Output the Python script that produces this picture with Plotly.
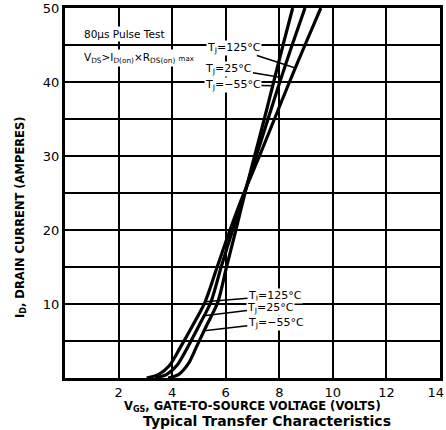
import numpy as np
import plotly.graph_objects as go

# ---- data ----
vgs_125 = [3.05, 3.5, 3.9, 4.3, 4.75, 5.22, 5.68, 6.16, 6.68, 7.26, 7.82, 8.38, 8.96, 9.55]
id_125 = [0, 0.5, 1.7, 4.1, 7.0, 10.2, 15, 20, 25, 30, 35, 40, 45, 50]

vgs_25 = [3.36, 3.8, 4.2, 4.6, 5.02, 5.44, 5.83, 6.26, 6.7, 7.14, 7.58, 8.02, 8.48, 8.96]
id_25 = [0, 0.5, 1.8, 4.3, 7.2, 10.2, 15, 20, 25, 30, 35, 40, 45, 50]

vgs_m55 = [3.85, 4.25, 4.6, 4.92, 5.3, 5.7, 6.03, 6.38, 6.72, 7.08, 7.44, 7.79, 8.14, 8.5]
id_m55 = [0, 0.5, 1.9, 4.3, 7.2, 10.2, 15, 20, 25, 30, 35, 40, 45, 50]

x_ticks = [2, 4, 6, 8, 10, 12, 14]
x_labels = ["2", "4", "6", "8", "10", "12", "14\u00a0\u00a0"]
y_grid = [5, 10, 15, 20, 25, 30, 35, 40, 45, 50]
y_labels = ["", "10", "", "20", "", "30", "", "40", "", "50"]

W, H = 446, 430
L, R, T, B = 65, 6, 8, 52

fig = go.Figure()
for xs, ys in [(vgs_125, id_125), (vgs_25, id_25), (vgs_m55, id_m55)]:
    fig.add_trace(go.Scatter(x=xs, y=ys, mode="lines",
                             line=dict(color="black", width=3.2, shape="spline", smoothing=0.8),
                             showlegend=False, hoverinfo="skip"))

def on_curve(xs, ys, i):
    return float(np.interp(i, ys, xs))

FONT = "DejaVu Sans"
lab_font = dict(family=FONT, size=11, color="black")

# label texts near curves: (text, curve, current at tip, text pos x, text pos y)
labels = [
    ("T<sub>J</sub>=125°C", (vgs_125, id_125), 41.9, 6.3, 44.6),
    ("T<sub>J</sub>=25°C", (vgs_25, id_25), 40.6, 6.12, 41.8),
    ("T<sub>J</sub>=−55°C", (vgs_m55, id_m55), 39.5, 6.27, 39.6),
    ("T<sub>J</sub>=125°C", (vgs_125, id_125), 10.3, 7.84, 11.1),
    ("T<sub>J</sub>=25°C", (vgs_25, id_25), 8.4, 7.69, 9.5),
    ("T<sub>J</sub>=−55°C", (vgs_m55, id_m55), 6.4, 7.87, 7.5),
]
for text, (xs, ys), i, tx, ty in labels:
    fig.add_annotation(x=on_curve(xs, ys, i), y=i, xref="x", yref="y",
                       ax=tx, ay=ty, axref="x", ayref="y",
                       text=text, showarrow=True, arrowhead=0, arrowwidth=1.5,
                       arrowcolor="black", standoff=0, font=lab_font,
                       bgcolor="white", borderpad=0)

fig.add_annotation(x=0.62, y=46.5, xref="x", yref="y", text="80μs Pulse Test",
                   showarrow=False, xanchor="left",
                   font=dict(family=FONT, size=10.5, color="black"), bgcolor="white")
fig.add_annotation(x=0.62, y=43.2, xref="x", yref="y",
                   text="V<sub>DS</sub>>I<sub>D(on)</sub>×R<sub>DS(on)</sub> <span style='font-size:7px'>max</span>",
                   showarrow=False, xanchor="left",
                   font=dict(family=FONT, size=10.5, color="black"), bgcolor="white")

def px_to_paper(px, py):
    return (px - L) / (W - L - R), (H - B - py) / (H - T - B)

px, py = px_to_paper(252, 406)
fig.add_annotation(x=px, y=py, xref="paper", yref="paper",
                   text="<b>V<sub>GS</sub>, GATE-TO-SOURCE VOLTAGE (VOLTS)</b>",
                   showarrow=False, font=dict(family=FONT, size=11.5, color="black"),
                   xanchor="center", yanchor="middle")
px, py = px_to_paper(267, 421)
fig.add_annotation(x=px, y=py, xref="paper", yref="paper",
                   text="<b>Typical Transfer Characteristics</b>",
                   showarrow=False, font=dict(family=FONT, size=14, color="black"),
                   xanchor="center", yanchor="middle")
px, py = px_to_paper(20, 217)
fig.add_annotation(x=px, y=py, xref="paper", yref="paper",
                   text="<b>I<sub>D</sub>, DRAIN CURRENT (AMPERES)</b>", textangle=-90,
                   showarrow=False, font=dict(family=FONT, size=11.5, color="black"),
                   xanchor="center", yanchor="middle")

fig.update_layout(
    width=W, height=H, margin=dict(l=L, r=R, t=T, b=B, autoexpand=False),
    paper_bgcolor="white", plot_bgcolor="white",
    xaxis=dict(range=[0, 14], tickvals=x_ticks, ticktext=x_labels,
               showgrid=True, gridcolor="black", gridwidth=1.5,
               showline=True, mirror=True, linecolor="black", linewidth=3,
               ticks="", tickfont=dict(family=FONT, size=13, color="black"),
               ticklabeloverflow="allow",
               zeroline=False, fixedrange=True, automargin=False),
    yaxis=dict(range=[0, 50], tickvals=y_grid, ticktext=y_labels,
               showgrid=True, gridcolor="black", gridwidth=1.5,
               showline=True, mirror=True, linecolor="black", linewidth=3,
               ticks="", tickfont=dict(family=FONT, size=13, color="black"),
               ticklabeloverflow="allow",
               zeroline=False, fixedrange=True, automargin=False),
)

fig.write_html("out.html", config={"displayModeBar": False},
               post_script="document.body.style.margin='0';document.body.style.overflow='hidden';")
